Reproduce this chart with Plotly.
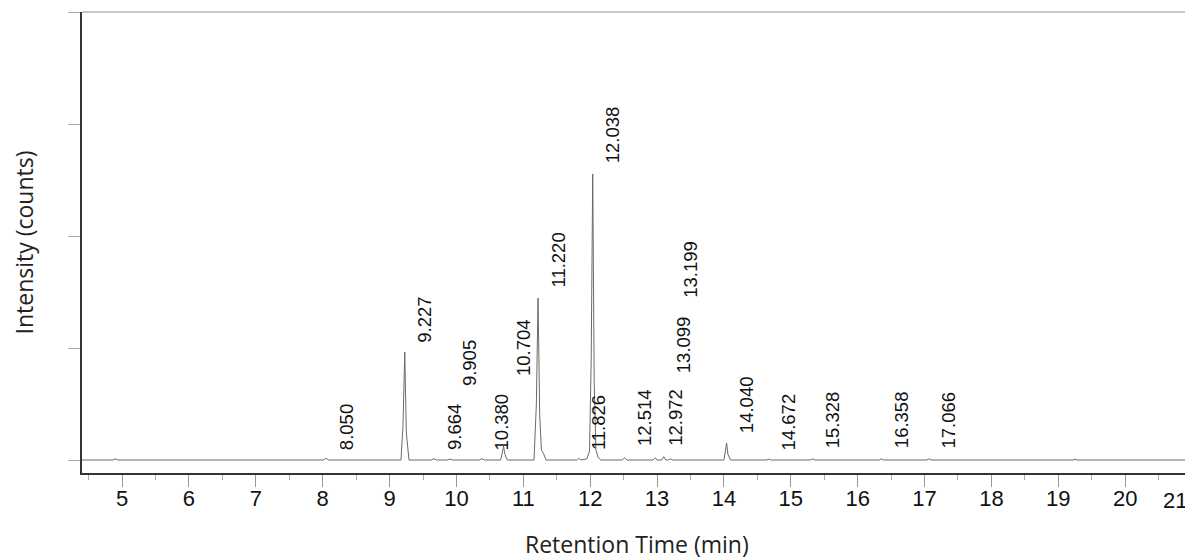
import plotly.graph_objects as go

# Chromatogram trace (retention time in min, intensity in counts)
rt_min = [
    4.40, 4.86, 4.90, 4.94,
    8.01, 8.05, 8.09,
    9.17, 9.20, 9.227, 9.25, 9.29,
    9.62, 9.664, 9.70,
    9.87, 9.905, 9.94,
    10.34, 10.38, 10.42,
    10.66, 10.685, 10.704, 10.725, 10.76,
    11.16, 11.195, 11.220, 11.245, 11.27, 11.30, 11.34,
    11.80, 11.826, 11.86,
    11.95, 11.99, 12.015, 12.038, 12.06, 12.085, 12.12, 12.16,
    12.48, 12.514, 12.55,
    12.94, 12.972, 13.00,
    13.07, 13.099, 13.13,
    13.17, 13.199, 13.23,
    14.00, 14.02, 14.040, 14.06, 14.10,
    14.64, 14.672, 14.70,
    15.29, 15.328, 15.36,
    16.32, 16.358, 16.39,
    17.03, 17.066, 17.10,
    19.22, 19.25, 19.28,
    21.00,
]
intensity_counts = [
    0, 0, 10000, 0,
    0, 15000, 0,
    0, 300000, 964000, 250000, 0,
    0, 12000, 0,
    0, 8000, 0,
    0, 12000, 0,
    0, 60000, 125000, 50000, 0,
    0, 500000, 1446000, 400000, 90000, 60000, 0,
    0, 15000, 0,
    10000, 80000, 900000, 2554000, 700000, 90000, 20000, 0,
    0, 20000, 0,
    0, 20000, 0,
    0, 30000, 0,
    0, 10000, 0,
    0, 60000, 152000, 50000, 0,
    0, 8000, 0,
    0, 10000, 0,
    0, 10000, 0,
    0, 10000, 0,
    0, 8000, 0,
    0,
]

# Peak labels: text, retention time, height of label base (counts)
peak_labels = ["8.050", "9.227", "9.664", "9.905", "10.380", "10.704", "11.220",
               "11.826", "12.038", "12.514", "12.972", "13.099", "13.199",
               "14.040", "14.672", "15.328", "16.358", "17.066"]
label_rt = [8.050, 9.227, 9.664, 9.905, 10.380, 10.704, 11.220,
            11.826, 12.038, 12.514, 12.972, 13.099, 13.199,
            14.040, 14.672, 15.328, 16.358, 17.066]
label_base = [71000, 1027000, 71000, 643000, 71000, 732000, 1518000,
              71000, 2634000, 107000, 107000, 759000, 1430000,
              223000, 71000, 89000, 89000, 89000]

x_ticks = [5, 6, 7, 8, 9, 10, 11, 12, 13, 14, 15, 16, 17, 18, 19, 20]
y_ticks = [0, 1000000, 2000000, 3000000, 4000000]

TICK_FONT = dict(family="Liberation Sans, Arial, sans-serif", size=22, color="#111")
TITLE_FONT = dict(family="Open Sans, sans-serif", size=23, color="#222")

fig = go.Figure()
fig.add_trace(go.Scatter(
    x=rt_min, y=intensity_counts, mode="lines",
    line=dict(color="#6a6a6a", width=1), showlegend=False, hoverinfo="x+y",
))

for txt, rt, yb in zip(peak_labels, label_rt, label_base):
    fig.add_annotation(
        x=rt, y=yb, text=txt, textangle=-90, showarrow=False,
        xanchor="center", yanchor="bottom", xshift=20,
        font=dict(family="Liberation Sans, Arial, sans-serif", size=18.5, color="#111"),
    )

# last tick label (kept inside the frame, like the original)
fig.add_annotation(
    x=21, y=0, xref="x", yref="paper", text="21", showarrow=False,
    xanchor="right", yanchor="top", yshift=-13, xshift=-3,
    font=TICK_FONT,
)

# axis titles
fig.add_annotation(
    x=0.5, y=0, xref="paper", yref="paper", text="Retention Time (min)",
    showarrow=False, xanchor="center", yanchor="middle", yshift=-71,
    font=TITLE_FONT,
)
fig.add_annotation(
    x=0, y=0.5, xref="paper", yref="paper", text="Intensity (counts)",
    showarrow=False, xanchor="center", yanchor="middle", xshift=-59,
    textangle=-90, font=TITLE_FONT,
)

# light top and right frame lines
fig.add_shape(type="line", xref="paper", yref="paper", x0=0, x1=1, y0=1, y1=1,
              line=dict(color="#b5b5b5", width=1.5))
fig.add_shape(type="line", xref="paper", yref="paper", x0=1, x1=1, y0=0, y1=1,
              line=dict(color="#c8c8c8", width=1.5))

# the page body has an 8px margin, so the figure is sized to fill the rest of the window
fig.update_layout(
    width=1185, height=552,
    margin=dict(l=74, r=1, t=4, b=87, autoexpand=False),
    paper_bgcolor="white", plot_bgcolor="white",
    xaxis=dict(
        range=[4.4, 21.0], tickmode="array", tickvals=x_ticks,
        automargin=False,
        showline=True, linecolor="#333", linewidth=1.5,
        ticks="outside", ticklen=12, tickcolor="#999", tickwidth=1,
        minor=dict(dtick=0.5, tick0=4.5, ticks="outside", ticklen=5, tickcolor="#aaa"),
        showgrid=False, zeroline=False,
        tickfont=TICK_FONT, ticklabelstandoff=-7,
    ),
    yaxis=dict(
        range=[-116000, 4000000], tickmode="array", tickvals=y_ticks,
        automargin=False,
        showticklabels=False,
        showline=True, linecolor="#333", linewidth=1.5,
        ticks="outside", ticklen=12, tickcolor="#aaa", tickwidth=1,
        showgrid=False, zeroline=False,
    ),
)

fig.write_html("out.html")
